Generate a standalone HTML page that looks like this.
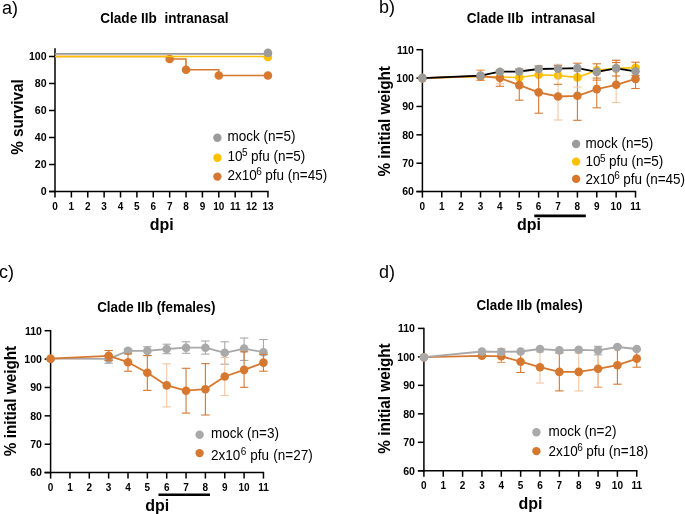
<!DOCTYPE html>
<html><head><meta charset="utf-8"><title>Clade IIb</title>
<style>
html,body{margin:0;padding:0;background:#fff;}
body{width:685px;height:514px;overflow:hidden;}
svg{display:block;will-change:transform;font-family:"Liberation Sans", sans-serif;}
text{fill:#000;white-space:pre;}
</style></head>
<body>
<svg width="685" height="514" viewBox="0 0 685 514">
<rect width="685" height="514" fill="#fff"/>
<text x="0" y="0" transform="translate(2,14.0) scale(1,1.0)" font-size="18" font-weight="normal" text-anchor="start" >a)</text>
<text x="0" y="0" transform="translate(164.4,23.3) scale(1,1.05)" font-size="13.6" font-weight="bold" text-anchor="middle" >Clade IIb&#160;&#160;intranasal</text>
<line x1="55.0" y1="48.3" x2="55.0" y2="192.2" stroke="#000" stroke-width="1.5" />
<line x1="49.0" y1="191.5" x2="55.0" y2="191.5" stroke="#000" stroke-width="1.5" />
<text x="0" y="0" transform="translate(46.6,195.316) scale(1,1.0)" font-size="10.6" font-weight="bold" text-anchor="end" >0</text>
<line x1="49.0" y1="164.5" x2="55.0" y2="164.5" stroke="#000" stroke-width="1.5" />
<text x="0" y="0" transform="translate(46.6,168.316) scale(1,1.0)" font-size="10.6" font-weight="bold" text-anchor="end" >20</text>
<line x1="49.0" y1="137.5" x2="55.0" y2="137.5" stroke="#000" stroke-width="1.5" />
<text x="0" y="0" transform="translate(46.6,141.316) scale(1,1.0)" font-size="10.6" font-weight="bold" text-anchor="end" >40</text>
<line x1="49.0" y1="110.5" x2="55.0" y2="110.5" stroke="#000" stroke-width="1.5" />
<text x="0" y="0" transform="translate(46.6,114.316) scale(1,1.0)" font-size="10.6" font-weight="bold" text-anchor="end" >60</text>
<line x1="49.0" y1="83.5" x2="55.0" y2="83.5" stroke="#000" stroke-width="1.5" />
<text x="0" y="0" transform="translate(46.6,87.316) scale(1,1.0)" font-size="10.6" font-weight="bold" text-anchor="end" >80</text>
<line x1="49.0" y1="56.5" x2="55.0" y2="56.5" stroke="#000" stroke-width="1.5" />
<text x="0" y="0" transform="translate(46.6,60.316) scale(1,1.0)" font-size="10.6" font-weight="bold" text-anchor="end" >100</text>
<line x1="49.2" y1="191.5" x2="268.64" y2="191.5" stroke="#000" stroke-width="1.5" />
<line x1="55.0" y1="191.5" x2="55.0" y2="197.5" stroke="#000" stroke-width="1.5" />
<text x="0" y="0" transform="translate(55.0,209.6) scale(1,1.0)" font-size="10" font-weight="bold" text-anchor="middle" >0</text>
<line x1="71.38" y1="191.5" x2="71.38" y2="197.5" stroke="#000" stroke-width="1.5" />
<text x="0" y="0" transform="translate(71.38,209.6) scale(1,1.0)" font-size="10" font-weight="bold" text-anchor="middle" >1</text>
<line x1="87.75999999999999" y1="191.5" x2="87.75999999999999" y2="197.5" stroke="#000" stroke-width="1.5" />
<text x="0" y="0" transform="translate(87.75999999999999,209.6) scale(1,1.0)" font-size="10" font-weight="bold" text-anchor="middle" >2</text>
<line x1="104.14" y1="191.5" x2="104.14" y2="197.5" stroke="#000" stroke-width="1.5" />
<text x="0" y="0" transform="translate(104.14,209.6) scale(1,1.0)" font-size="10" font-weight="bold" text-anchor="middle" >3</text>
<line x1="120.52" y1="191.5" x2="120.52" y2="197.5" stroke="#000" stroke-width="1.5" />
<text x="0" y="0" transform="translate(120.52,209.6) scale(1,1.0)" font-size="10" font-weight="bold" text-anchor="middle" >4</text>
<line x1="136.89999999999998" y1="191.5" x2="136.89999999999998" y2="197.5" stroke="#000" stroke-width="1.5" />
<text x="0" y="0" transform="translate(136.89999999999998,209.6) scale(1,1.0)" font-size="10" font-weight="bold" text-anchor="middle" >5</text>
<line x1="153.28" y1="191.5" x2="153.28" y2="197.5" stroke="#000" stroke-width="1.5" />
<text x="0" y="0" transform="translate(153.28,209.6) scale(1,1.0)" font-size="10" font-weight="bold" text-anchor="middle" >6</text>
<line x1="169.66" y1="191.5" x2="169.66" y2="197.5" stroke="#000" stroke-width="1.5" />
<text x="0" y="0" transform="translate(169.66,209.6) scale(1,1.0)" font-size="10" font-weight="bold" text-anchor="middle" >7</text>
<line x1="186.04" y1="191.5" x2="186.04" y2="197.5" stroke="#000" stroke-width="1.5" />
<text x="0" y="0" transform="translate(186.04,209.6) scale(1,1.0)" font-size="10" font-weight="bold" text-anchor="middle" >8</text>
<line x1="202.42" y1="191.5" x2="202.42" y2="197.5" stroke="#000" stroke-width="1.5" />
<text x="0" y="0" transform="translate(202.42,209.6) scale(1,1.0)" font-size="10" font-weight="bold" text-anchor="middle" >9</text>
<line x1="218.79999999999998" y1="191.5" x2="218.79999999999998" y2="197.5" stroke="#000" stroke-width="1.5" />
<text x="0" y="0" transform="translate(218.79999999999998,209.6) scale(1,1.0)" font-size="10" font-weight="bold" text-anchor="middle" >10</text>
<line x1="235.17999999999998" y1="191.5" x2="235.17999999999998" y2="197.5" stroke="#000" stroke-width="1.5" />
<text x="0" y="0" transform="translate(235.17999999999998,209.6) scale(1,1.0)" font-size="10" font-weight="bold" text-anchor="middle" >11</text>
<line x1="251.56" y1="191.5" x2="251.56" y2="197.5" stroke="#000" stroke-width="1.5" />
<text x="0" y="0" transform="translate(251.56,209.6) scale(1,1.0)" font-size="10" font-weight="bold" text-anchor="middle" >12</text>
<line x1="267.94" y1="191.5" x2="267.94" y2="197.5" stroke="#000" stroke-width="1.5" />
<text x="0" y="0" transform="translate(267.94,209.6) scale(1,1.0)" font-size="10" font-weight="bold" text-anchor="middle" >13</text>
<text x="0" y="0" transform="translate(161.8,230.1) scale(1,1.0)" font-size="16" font-weight="bold" text-anchor="middle" >dpi</text>
<text x="0" y="0" font-size="15.3" font-weight="bold" text-anchor="middle" transform="translate(22.8,117) rotate(-90) scale(1,1.03)">% survival</text>
<polyline points="55.0,56.5 169.7,56.5 169.7,59.0 186.0,59.0 186.0,69.8 218.8,69.8 218.8,75.5 267.9,75.5" fill="none" stroke="#D6782F" stroke-width="1.6" stroke-linejoin="round"/>
<circle cx="169.66" cy="59" r="4.3" fill="#D6782F"/>
<circle cx="186.04" cy="69.8" r="4.3" fill="#D6782F"/>
<circle cx="218.79999999999998" cy="75.5" r="4.3" fill="#D6782F"/>
<circle cx="267.94" cy="75.5" r="4.3" fill="#D6782F"/>
<line x1="55.0" y1="56.5" x2="267.94" y2="56.5" stroke="#FFC000" stroke-width="1.6" />
<circle cx="267.94" cy="57" r="4.3" fill="#FFC000"/>
<line x1="55.0" y1="53.9" x2="267.94" y2="53.9" stroke="#9B9B9B" stroke-width="1.6" />
<circle cx="267.94" cy="52.9" r="4.3" fill="#9B9B9B"/>
<circle cx="217.4" cy="137.8" r="4.2" fill="#9B9B9B"/>
<text x="0" y="0" transform="translate(227.6,141.0) scale(1,1.05)" font-size="13.5" font-weight="normal" text-anchor="start" >mock (n=5)</text>
<circle cx="217.4" cy="157.8" r="4.2" fill="#FFC000"/>
<text x="0" y="0" transform="translate(227.6,161.0) scale(1,1.05)" font-size="13.5" font-weight="normal" text-anchor="start" >10<tspan font-size="10" dx="-0.6" dy="-4.4">5</tspan><tspan dy="4.4" dx="-0.3"> pfu (n=5)</tspan></text>
<circle cx="217.4" cy="176.6" r="4.2" fill="#D6782F"/>
<text x="0" y="0" transform="translate(227.6,180.0) scale(1,1.05)" font-size="13.5" font-weight="normal" text-anchor="start" >2x10<tspan font-size="10" dx="-0.6" dy="-4.4">6</tspan><tspan dy="4.4" dx="-0.3"> pfu </tspan><tspan dx="0">(n=45)</tspan></text>
<text x="0" y="0" transform="translate(379,12.8) scale(1,1.0)" font-size="18" font-weight="normal" text-anchor="start" >b)</text>
<text x="0" y="0" transform="translate(531,23.3) scale(1,1.05)" font-size="13.6" font-weight="bold" text-anchor="middle" >Clade IIb&#160;&#160;intranasal</text>
<line x1="422.4" y1="48.999999999999986" x2="422.4" y2="192.29999999999998" stroke="#000" stroke-width="1.5" />
<line x1="416.4" y1="191.6" x2="422.4" y2="191.6" stroke="#000" stroke-width="1.5" />
<text x="0" y="0" transform="translate(414,195.416) scale(1,1.0)" font-size="10.6" font-weight="bold" text-anchor="end" >60</text>
<line x1="416.4" y1="163.22" x2="422.4" y2="163.22" stroke="#000" stroke-width="1.5" />
<text x="0" y="0" transform="translate(414,167.036) scale(1,1.0)" font-size="10.6" font-weight="bold" text-anchor="end" >70</text>
<line x1="416.4" y1="134.83999999999997" x2="422.4" y2="134.83999999999997" stroke="#000" stroke-width="1.5" />
<text x="0" y="0" transform="translate(414,138.65599999999998) scale(1,1.0)" font-size="10.6" font-weight="bold" text-anchor="end" >80</text>
<line x1="416.4" y1="106.46" x2="422.4" y2="106.46" stroke="#000" stroke-width="1.5" />
<text x="0" y="0" transform="translate(414,110.276) scale(1,1.0)" font-size="10.6" font-weight="bold" text-anchor="end" >90</text>
<line x1="416.4" y1="78.07999999999998" x2="422.4" y2="78.07999999999998" stroke="#000" stroke-width="1.5" />
<text x="0" y="0" transform="translate(414,81.89599999999999) scale(1,1.0)" font-size="10.6" font-weight="bold" text-anchor="end" >100</text>
<line x1="416.4" y1="49.69999999999999" x2="422.4" y2="49.69999999999999" stroke="#000" stroke-width="1.5" />
<text x="0" y="0" transform="translate(414,53.51599999999999) scale(1,1.0)" font-size="10.6" font-weight="bold" text-anchor="end" >110</text>
<line x1="416.4" y1="191.6" x2="636.225" y2="191.6" stroke="#000" stroke-width="1.5" />
<line x1="422.4" y1="191.6" x2="422.4" y2="197.6" stroke="#000" stroke-width="1.5" />
<text x="0" y="0" transform="translate(422.4,210) scale(1,1.0)" font-size="10" font-weight="bold" text-anchor="middle" >0</text>
<line x1="441.775" y1="191.6" x2="441.775" y2="197.6" stroke="#000" stroke-width="1.5" />
<text x="0" y="0" transform="translate(441.775,210) scale(1,1.0)" font-size="10" font-weight="bold" text-anchor="middle" >1</text>
<line x1="461.15" y1="191.6" x2="461.15" y2="197.6" stroke="#000" stroke-width="1.5" />
<text x="0" y="0" transform="translate(461.15,210) scale(1,1.0)" font-size="10" font-weight="bold" text-anchor="middle" >2</text>
<line x1="480.525" y1="191.6" x2="480.525" y2="197.6" stroke="#000" stroke-width="1.5" />
<text x="0" y="0" transform="translate(480.525,210) scale(1,1.0)" font-size="10" font-weight="bold" text-anchor="middle" >3</text>
<line x1="499.9" y1="191.6" x2="499.9" y2="197.6" stroke="#000" stroke-width="1.5" />
<text x="0" y="0" transform="translate(499.9,210) scale(1,1.0)" font-size="10" font-weight="bold" text-anchor="middle" >4</text>
<line x1="519.275" y1="191.6" x2="519.275" y2="197.6" stroke="#000" stroke-width="1.5" />
<text x="0" y="0" transform="translate(519.275,210) scale(1,1.0)" font-size="10" font-weight="bold" text-anchor="middle" >5</text>
<line x1="538.65" y1="191.6" x2="538.65" y2="197.6" stroke="#000" stroke-width="1.5" />
<text x="0" y="0" transform="translate(538.65,210) scale(1,1.0)" font-size="10" font-weight="bold" text-anchor="middle" >6</text>
<line x1="558.025" y1="191.6" x2="558.025" y2="197.6" stroke="#000" stroke-width="1.5" />
<text x="0" y="0" transform="translate(558.025,210) scale(1,1.0)" font-size="10" font-weight="bold" text-anchor="middle" >7</text>
<line x1="577.4" y1="191.6" x2="577.4" y2="197.6" stroke="#000" stroke-width="1.5" />
<text x="0" y="0" transform="translate(577.4,210) scale(1,1.0)" font-size="10" font-weight="bold" text-anchor="middle" >8</text>
<line x1="596.775" y1="191.6" x2="596.775" y2="197.6" stroke="#000" stroke-width="1.5" />
<text x="0" y="0" transform="translate(596.775,210) scale(1,1.0)" font-size="10" font-weight="bold" text-anchor="middle" >9</text>
<line x1="616.15" y1="191.6" x2="616.15" y2="197.6" stroke="#000" stroke-width="1.5" />
<text x="0" y="0" transform="translate(616.15,210) scale(1,1.0)" font-size="10" font-weight="bold" text-anchor="middle" >10</text>
<line x1="635.525" y1="191.6" x2="635.525" y2="197.6" stroke="#000" stroke-width="1.5" />
<text x="0" y="0" transform="translate(635.525,210) scale(1,1.0)" font-size="10" font-weight="bold" text-anchor="middle" >11</text>
<line x1="534.3" y1="215.9" x2="585.8" y2="215.9" stroke="#000" stroke-width="2.6" />
<text x="0" y="0" transform="translate(529,230.2) scale(1,1.0)" font-size="16" font-weight="bold" text-anchor="middle" >dpi</text>
<text x="0" y="0" font-size="15.3" font-weight="bold" text-anchor="middle" transform="translate(390.2,121.3) rotate(-90) scale(1,1.03)">% initial weight</text>
<polyline points="422.4,78.1 480.5,76.5 499.9,77.0 519.3,77.5 538.6,74.8 558.0,75.5 577.4,77.4 596.8,70.2 616.1,68.4 635.5,67.8" fill="none" stroke="#FFC000" stroke-width="1.6" stroke-linejoin="round"/>
<circle cx="422.4" cy="78.1" r="4.3" fill="#FFC000"/>
<circle cx="480.525" cy="76.5" r="4.3" fill="#FFC000"/>
<circle cx="499.9" cy="77.0" r="4.3" fill="#FFC000"/>
<circle cx="519.275" cy="77.5" r="4.3" fill="#FFC000"/>
<circle cx="538.65" cy="74.8" r="4.3" fill="#FFC000"/>
<circle cx="558.025" cy="75.5" r="4.3" fill="#FFC000"/>
<circle cx="577.4" cy="77.4" r="4.3" fill="#FFC000"/>
<circle cx="596.775" cy="70.2" r="4.3" fill="#FFC000"/>
<circle cx="616.15" cy="68.4" r="4.3" fill="#FFC000"/>
<circle cx="635.525" cy="67.8" r="4.3" fill="#FFC000"/>
<line x1="480.525" y1="70.2" x2="480.525" y2="80.4" stroke="#EE8A3A" stroke-width="1.1" />
<line x1="476.325" y1="70.2" x2="484.72499999999997" y2="70.2" stroke="#EE8A3A" stroke-width="1.1" />
<line x1="476.325" y1="80.4" x2="484.72499999999997" y2="80.4" stroke="#EE8A3A" stroke-width="1.1" />
<line x1="499.9" y1="70.0" x2="499.9" y2="86.3" stroke="#D6782F" stroke-width="1.1" />
<line x1="495.7" y1="70.0" x2="504.09999999999997" y2="70.0" stroke="#D6782F" stroke-width="1.1" />
<line x1="495.7" y1="86.3" x2="504.09999999999997" y2="86.3" stroke="#D6782F" stroke-width="1.1" />
<line x1="495.7" y1="83.8" x2="504.09999999999997" y2="83.8" stroke="#F2C6A2" stroke-width="1.1" />
<line x1="519.275" y1="69.0" x2="519.275" y2="100.2" stroke="#D6782F" stroke-width="1.1" />
<line x1="515.0749999999999" y1="69.0" x2="523.475" y2="69.0" stroke="#D6782F" stroke-width="1.1" />
<line x1="515.0749999999999" y1="100.2" x2="523.475" y2="100.2" stroke="#D6782F" stroke-width="1.1" />
<line x1="538.65" y1="66.0" x2="538.65" y2="113.2" stroke="#D6782F" stroke-width="1.1" />
<line x1="534.4499999999999" y1="66.0" x2="542.85" y2="66.0" stroke="#D6782F" stroke-width="1.1" />
<line x1="534.4499999999999" y1="113.2" x2="542.85" y2="113.2" stroke="#D6782F" stroke-width="1.1" />
<line x1="558.025" y1="64.3" x2="558.025" y2="120.0" stroke="#F2C6A2" stroke-width="1.1" />
<line x1="553.8249999999999" y1="64.3" x2="562.225" y2="64.3" stroke="#F2C6A2" stroke-width="1.1" />
<line x1="553.8249999999999" y1="120.0" x2="562.225" y2="120.0" stroke="#F2C6A2" stroke-width="1.1" />
<line x1="553.8249999999999" y1="84.3" x2="562.225" y2="84.3" stroke="#D6782F" stroke-width="1.1" />
<line x1="553.8249999999999" y1="65.6" x2="562.225" y2="65.6" stroke="#D6782F" stroke-width="1.1" />
<line x1="577.4" y1="63.2" x2="577.4" y2="120.3" stroke="#D6782F" stroke-width="1.1" />
<line x1="573.1999999999999" y1="63.2" x2="581.6" y2="63.2" stroke="#D6782F" stroke-width="1.1" />
<line x1="573.1999999999999" y1="120.3" x2="581.6" y2="120.3" stroke="#D6782F" stroke-width="1.1" />
<line x1="573.1999999999999" y1="71.3" x2="581.6" y2="71.3" stroke="#F2C6A2" stroke-width="1.1" />
<line x1="573.1999999999999" y1="87.0" x2="581.6" y2="87.0" stroke="#F2C6A2" stroke-width="1.1" />
<line x1="596.775" y1="63.8" x2="596.775" y2="107.8" stroke="#D6782F" stroke-width="1.1" />
<line x1="592.5749999999999" y1="63.8" x2="600.975" y2="63.8" stroke="#D6782F" stroke-width="1.1" />
<line x1="592.5749999999999" y1="107.8" x2="600.975" y2="107.8" stroke="#D6782F" stroke-width="1.1" />
<line x1="592.5749999999999" y1="78.1" x2="600.975" y2="78.1" stroke="#D6782F" stroke-width="1.1" />
<line x1="592.5749999999999" y1="80.1" x2="600.975" y2="80.1" stroke="#D6782F" stroke-width="1.1" />
<line x1="616.15" y1="60.3" x2="616.15" y2="102.5" stroke="#F2C6A2" stroke-width="1.1" />
<line x1="611.9499999999999" y1="60.3" x2="620.35" y2="60.3" stroke="#F2C6A2" stroke-width="1.1" />
<line x1="611.9499999999999" y1="102.5" x2="620.35" y2="102.5" stroke="#F2C6A2" stroke-width="1.1" />
<line x1="616.15" y1="60.3" x2="616.15" y2="84.8" stroke="#D6782F" stroke-width="1.1" />
<line x1="611.9499999999999" y1="60.3" x2="620.35" y2="60.3" stroke="#D6782F" stroke-width="1.1" />
<line x1="611.9499999999999" y1="62.6" x2="620.35" y2="62.6" stroke="#D6782F" stroke-width="1.1" />
<line x1="611.9499999999999" y1="76.0" x2="620.35" y2="76.0" stroke="#D6782F" stroke-width="1.1" />
<line x1="635.525" y1="62.2" x2="635.525" y2="88.5" stroke="#D6782F" stroke-width="1.1" />
<line x1="631.3249999999999" y1="62.2" x2="639.725" y2="62.2" stroke="#D6782F" stroke-width="1.1" />
<line x1="631.3249999999999" y1="88.5" x2="639.725" y2="88.5" stroke="#D6782F" stroke-width="1.1" />
<line x1="631.3249999999999" y1="75.4" x2="639.725" y2="75.4" stroke="#D6782F" stroke-width="1.1" />
<polyline points="422.4,78.1 480.5,76.2 499.9,78.0 519.3,85.1 538.6,92.4 558.0,96.5 577.4,95.8 596.8,89.1 616.1,84.8 635.5,78.9" fill="none" stroke="#D6782F" stroke-width="1.8" stroke-linejoin="round"/>
<circle cx="422.4" cy="78.1" r="4.3" fill="#D6782F"/>
<circle cx="480.525" cy="76.2" r="4.3" fill="#D6782F"/>
<circle cx="499.9" cy="78.0" r="4.3" fill="#D6782F"/>
<circle cx="519.275" cy="85.1" r="4.3" fill="#D6782F"/>
<circle cx="538.65" cy="92.4" r="4.3" fill="#D6782F"/>
<circle cx="558.025" cy="96.5" r="4.3" fill="#D6782F"/>
<circle cx="577.4" cy="95.8" r="4.3" fill="#D6782F"/>
<circle cx="596.775" cy="89.1" r="4.3" fill="#D6782F"/>
<circle cx="616.15" cy="84.8" r="4.3" fill="#D6782F"/>
<circle cx="635.525" cy="78.9" r="4.3" fill="#D6782F"/>
<polyline points="422.4,78.1 480.5,75.6 499.9,71.7 519.3,71.5 538.6,69.0 558.0,68.7 577.4,68.1 596.8,71.9 616.1,68.4 635.5,71.3" fill="none" stroke="#000" stroke-width="1.8" stroke-linejoin="round"/>
<circle cx="422.4" cy="78.1" r="4.3" fill="#9B9B9B"/>
<circle cx="480.525" cy="75.6" r="4.3" fill="#9B9B9B"/>
<circle cx="499.9" cy="71.7" r="4.3" fill="#9B9B9B"/>
<circle cx="519.275" cy="71.5" r="4.3" fill="#9B9B9B"/>
<circle cx="538.65" cy="69.0" r="4.3" fill="#9B9B9B"/>
<circle cx="558.025" cy="68.7" r="4.3" fill="#9B9B9B"/>
<circle cx="577.4" cy="68.1" r="4.3" fill="#9B9B9B"/>
<circle cx="596.775" cy="71.9" r="4.3" fill="#9B9B9B"/>
<circle cx="616.15" cy="68.4" r="4.3" fill="#9B9B9B"/>
<circle cx="635.525" cy="71.3" r="4.3" fill="#9B9B9B"/>
<circle cx="576.1" cy="144.0" r="4.2" fill="#9B9B9B"/>
<text x="0" y="0" transform="translate(585.5,148.3) scale(1,1.05)" font-size="13.5" font-weight="normal" text-anchor="start" >mock (n=5)</text>
<circle cx="576.1" cy="161.6" r="4.2" fill="#FFC000"/>
<text x="0" y="0" transform="translate(585.5,166.2) scale(1,1.05)" font-size="13.5" font-weight="normal" text-anchor="start" >10<tspan font-size="10" dx="-0.6" dy="-4.4">5</tspan><tspan dy="4.4" dx="-0.3"> pfu (n=5)</tspan></text>
<circle cx="576.1" cy="178.9" r="4.2" fill="#D6782F"/>
<text x="0" y="0" transform="translate(585.5,184.0) scale(1,1.05)" font-size="13.5" font-weight="normal" text-anchor="start" >2x10<tspan font-size="10" dx="-0.6" dy="-4.4">6</tspan><tspan dy="4.4" dx="-0.3"> pfu </tspan><tspan dx="0">(n=45)</tspan></text>
<text x="0" y="0" transform="translate(-1,278) scale(1,1.0)" font-size="18" font-weight="normal" text-anchor="start" >c)</text>
<text x="0" y="0" transform="translate(156.3,311.9) scale(1,1.05)" font-size="13.4" font-weight="bold" text-anchor="middle" >Clade IIb (females)</text>
<line x1="50.6" y1="330.00000000000006" x2="50.6" y2="473.3" stroke="#000" stroke-width="1.5" />
<line x1="44.6" y1="472.6" x2="50.6" y2="472.6" stroke="#000" stroke-width="1.5" />
<text x="0" y="0" transform="translate(42,476.416) scale(1,1.0)" font-size="10.6" font-weight="bold" text-anchor="end" >60</text>
<line x1="44.6" y1="444.22" x2="50.6" y2="444.22" stroke="#000" stroke-width="1.5" />
<text x="0" y="0" transform="translate(42,448.036) scale(1,1.0)" font-size="10.6" font-weight="bold" text-anchor="end" >70</text>
<line x1="44.6" y1="415.84000000000003" x2="50.6" y2="415.84000000000003" stroke="#000" stroke-width="1.5" />
<text x="0" y="0" transform="translate(42,419.656) scale(1,1.0)" font-size="10.6" font-weight="bold" text-anchor="end" >80</text>
<line x1="44.6" y1="387.46000000000004" x2="50.6" y2="387.46000000000004" stroke="#000" stroke-width="1.5" />
<text x="0" y="0" transform="translate(42,391.276) scale(1,1.0)" font-size="10.6" font-weight="bold" text-anchor="end" >90</text>
<line x1="44.6" y1="359.08000000000004" x2="50.6" y2="359.08000000000004" stroke="#000" stroke-width="1.5" />
<text x="0" y="0" transform="translate(42,362.896) scale(1,1.0)" font-size="10.6" font-weight="bold" text-anchor="end" >100</text>
<line x1="44.6" y1="330.70000000000005" x2="50.6" y2="330.70000000000005" stroke="#000" stroke-width="1.5" />
<text x="0" y="0" transform="translate(42,334.516) scale(1,1.0)" font-size="10.6" font-weight="bold" text-anchor="end" >110</text>
<line x1="44.6" y1="472.6" x2="264.15000000000003" y2="472.6" stroke="#000" stroke-width="1.5" />
<line x1="50.6" y1="472.6" x2="50.6" y2="478.6" stroke="#000" stroke-width="1.5" />
<text x="0" y="0" transform="translate(50.6,490.9) scale(1,1.0)" font-size="10" font-weight="bold" text-anchor="middle" >0</text>
<line x1="69.95" y1="472.6" x2="69.95" y2="478.6" stroke="#000" stroke-width="1.5" />
<text x="0" y="0" transform="translate(69.95,490.9) scale(1,1.0)" font-size="10" font-weight="bold" text-anchor="middle" >1</text>
<line x1="89.30000000000001" y1="472.6" x2="89.30000000000001" y2="478.6" stroke="#000" stroke-width="1.5" />
<text x="0" y="0" transform="translate(89.30000000000001,490.9) scale(1,1.0)" font-size="10" font-weight="bold" text-anchor="middle" >2</text>
<line x1="108.65" y1="472.6" x2="108.65" y2="478.6" stroke="#000" stroke-width="1.5" />
<text x="0" y="0" transform="translate(108.65,490.9) scale(1,1.0)" font-size="10" font-weight="bold" text-anchor="middle" >3</text>
<line x1="128.0" y1="472.6" x2="128.0" y2="478.6" stroke="#000" stroke-width="1.5" />
<text x="0" y="0" transform="translate(128.0,490.9) scale(1,1.0)" font-size="10" font-weight="bold" text-anchor="middle" >4</text>
<line x1="147.35" y1="472.6" x2="147.35" y2="478.6" stroke="#000" stroke-width="1.5" />
<text x="0" y="0" transform="translate(147.35,490.9) scale(1,1.0)" font-size="10" font-weight="bold" text-anchor="middle" >5</text>
<line x1="166.70000000000002" y1="472.6" x2="166.70000000000002" y2="478.6" stroke="#000" stroke-width="1.5" />
<text x="0" y="0" transform="translate(166.70000000000002,490.9) scale(1,1.0)" font-size="10" font-weight="bold" text-anchor="middle" >6</text>
<line x1="186.05" y1="472.6" x2="186.05" y2="478.6" stroke="#000" stroke-width="1.5" />
<text x="0" y="0" transform="translate(186.05,490.9) scale(1,1.0)" font-size="10" font-weight="bold" text-anchor="middle" >7</text>
<line x1="205.4" y1="472.6" x2="205.4" y2="478.6" stroke="#000" stroke-width="1.5" />
<text x="0" y="0" transform="translate(205.4,490.9) scale(1,1.0)" font-size="10" font-weight="bold" text-anchor="middle" >8</text>
<line x1="224.75" y1="472.6" x2="224.75" y2="478.6" stroke="#000" stroke-width="1.5" />
<text x="0" y="0" transform="translate(224.75,490.9) scale(1,1.0)" font-size="10" font-weight="bold" text-anchor="middle" >9</text>
<line x1="244.1" y1="472.6" x2="244.1" y2="478.6" stroke="#000" stroke-width="1.5" />
<text x="0" y="0" transform="translate(244.1,490.9) scale(1,1.0)" font-size="10" font-weight="bold" text-anchor="middle" >10</text>
<line x1="263.45000000000005" y1="472.6" x2="263.45000000000005" y2="478.6" stroke="#000" stroke-width="1.5" />
<text x="0" y="0" transform="translate(263.45000000000005,490.9) scale(1,1.0)" font-size="10" font-weight="bold" text-anchor="middle" >11</text>
<line x1="158.5" y1="494.8" x2="210" y2="494.8" stroke="#000" stroke-width="2.6" />
<text x="0" y="0" transform="translate(157.3,511.1) scale(1,1.0)" font-size="16" font-weight="bold" text-anchor="middle" >dpi</text>
<text x="0" y="0" font-size="15.3" font-weight="bold" text-anchor="middle" transform="translate(16,401) rotate(-90) scale(1,1.03)">% initial weight</text>
<line x1="108.65" y1="355" x2="108.65" y2="363.3" stroke="#A9A9A9" stroke-width="1.1" />
<line x1="104.45" y1="355" x2="112.85000000000001" y2="355" stroke="#A9A9A9" stroke-width="1.1" />
<line x1="104.45" y1="363.3" x2="112.85000000000001" y2="363.3" stroke="#A9A9A9" stroke-width="1.1" />
<line x1="128.0" y1="349" x2="128.0" y2="353" stroke="#A9A9A9" stroke-width="1.1" />
<line x1="123.8" y1="349" x2="132.2" y2="349" stroke="#A9A9A9" stroke-width="1.1" />
<line x1="123.8" y1="353" x2="132.2" y2="353" stroke="#A9A9A9" stroke-width="1.1" />
<line x1="147.35" y1="346.7" x2="147.35" y2="355.6" stroke="#A9A9A9" stroke-width="1.1" />
<line x1="143.15" y1="346.7" x2="151.54999999999998" y2="346.7" stroke="#A9A9A9" stroke-width="1.1" />
<line x1="143.15" y1="355.6" x2="151.54999999999998" y2="355.6" stroke="#A9A9A9" stroke-width="1.1" />
<line x1="166.70000000000002" y1="344.2" x2="166.70000000000002" y2="353.7" stroke="#A9A9A9" stroke-width="1.1" />
<line x1="162.50000000000003" y1="344.2" x2="170.9" y2="344.2" stroke="#A9A9A9" stroke-width="1.1" />
<line x1="162.50000000000003" y1="353.7" x2="170.9" y2="353.7" stroke="#A9A9A9" stroke-width="1.1" />
<line x1="186.05" y1="341.8" x2="186.05" y2="353.3" stroke="#A9A9A9" stroke-width="1.1" />
<line x1="181.85000000000002" y1="341.8" x2="190.25" y2="341.8" stroke="#A9A9A9" stroke-width="1.1" />
<line x1="181.85000000000002" y1="353.3" x2="190.25" y2="353.3" stroke="#A9A9A9" stroke-width="1.1" />
<line x1="205.4" y1="341.0" x2="205.4" y2="354.1" stroke="#A9A9A9" stroke-width="1.1" />
<line x1="201.20000000000002" y1="341.0" x2="209.6" y2="341.0" stroke="#A9A9A9" stroke-width="1.1" />
<line x1="201.20000000000002" y1="354.1" x2="209.6" y2="354.1" stroke="#A9A9A9" stroke-width="1.1" />
<line x1="224.75" y1="341.8" x2="224.75" y2="364.2" stroke="#A9A9A9" stroke-width="1.1" />
<line x1="220.55" y1="341.8" x2="228.95" y2="341.8" stroke="#A9A9A9" stroke-width="1.1" />
<line x1="220.55" y1="364.2" x2="228.95" y2="364.2" stroke="#A9A9A9" stroke-width="1.1" />
<line x1="244.1" y1="338.0" x2="244.1" y2="360.4" stroke="#A9A9A9" stroke-width="1.1" />
<line x1="239.9" y1="338.0" x2="248.29999999999998" y2="338.0" stroke="#A9A9A9" stroke-width="1.1" />
<line x1="239.9" y1="360.4" x2="248.29999999999998" y2="360.4" stroke="#A9A9A9" stroke-width="1.1" />
<line x1="263.45000000000005" y1="339.5" x2="263.45000000000005" y2="354.7" stroke="#A9A9A9" stroke-width="1.1" />
<line x1="259.25000000000006" y1="339.5" x2="267.65000000000003" y2="339.5" stroke="#A9A9A9" stroke-width="1.1" />
<line x1="259.25000000000006" y1="354.7" x2="267.65000000000003" y2="354.7" stroke="#A9A9A9" stroke-width="1.1" />
<polyline points="50.6,358.7 108.7,358.9 128.0,350.9 147.3,350.9 166.7,349.0 186.1,347.7 205.4,347.7 224.8,352.8 244.1,348.6 263.5,352.2" fill="none" stroke="#A9A9A9" stroke-width="1.8" stroke-linejoin="round"/>
<circle cx="50.6" cy="358.7" r="4.3" fill="#A9A9A9"/>
<circle cx="108.65" cy="358.9" r="4.3" fill="#A9A9A9"/>
<circle cx="128.0" cy="350.9" r="4.3" fill="#A9A9A9"/>
<circle cx="147.35" cy="350.9" r="4.3" fill="#A9A9A9"/>
<circle cx="166.70000000000002" cy="349.0" r="4.3" fill="#A9A9A9"/>
<circle cx="186.05" cy="347.7" r="4.3" fill="#A9A9A9"/>
<circle cx="205.4" cy="347.7" r="4.3" fill="#A9A9A9"/>
<circle cx="224.75" cy="352.8" r="4.3" fill="#A9A9A9"/>
<circle cx="244.1" cy="348.6" r="4.3" fill="#A9A9A9"/>
<circle cx="263.45000000000005" cy="352.2" r="4.3" fill="#A9A9A9"/>
<line x1="108.65" y1="350.5" x2="108.65" y2="360.5" stroke="#D6782F" stroke-width="1.1" />
<line x1="104.45" y1="350.5" x2="112.85000000000001" y2="350.5" stroke="#D6782F" stroke-width="1.1" />
<line x1="104.45" y1="360.5" x2="112.85000000000001" y2="360.5" stroke="#D6782F" stroke-width="1.1" />
<line x1="128.0" y1="354.0" x2="128.0" y2="371.2" stroke="#D6782F" stroke-width="1.1" />
<line x1="123.8" y1="354.0" x2="132.2" y2="354.0" stroke="#D6782F" stroke-width="1.1" />
<line x1="123.8" y1="371.2" x2="132.2" y2="371.2" stroke="#D6782F" stroke-width="1.1" />
<line x1="147.35" y1="355.6" x2="147.35" y2="390.4" stroke="#D6782F" stroke-width="1.1" />
<line x1="143.15" y1="355.6" x2="151.54999999999998" y2="355.6" stroke="#D6782F" stroke-width="1.1" />
<line x1="143.15" y1="390.4" x2="151.54999999999998" y2="390.4" stroke="#D6782F" stroke-width="1.1" />
<line x1="166.70000000000002" y1="363.8" x2="166.70000000000002" y2="406.9" stroke="#F2C6A2" stroke-width="1.1" />
<line x1="162.50000000000003" y1="363.8" x2="170.9" y2="363.8" stroke="#F2C6A2" stroke-width="1.1" />
<line x1="162.50000000000003" y1="406.9" x2="170.9" y2="406.9" stroke="#F2C6A2" stroke-width="1.1" />
<line x1="186.05" y1="368.3" x2="186.05" y2="413.1" stroke="#D6782F" stroke-width="1.1" />
<line x1="181.85000000000002" y1="368.3" x2="190.25" y2="368.3" stroke="#D6782F" stroke-width="1.1" />
<line x1="181.85000000000002" y1="413.1" x2="190.25" y2="413.1" stroke="#D6782F" stroke-width="1.1" />
<line x1="205.4" y1="363.6" x2="205.4" y2="415.0" stroke="#D6782F" stroke-width="1.1" />
<line x1="201.20000000000002" y1="363.6" x2="209.6" y2="363.6" stroke="#D6782F" stroke-width="1.1" />
<line x1="201.20000000000002" y1="415.0" x2="209.6" y2="415.0" stroke="#D6782F" stroke-width="1.1" />
<line x1="224.75" y1="357.5" x2="224.75" y2="395.5" stroke="#F2C6A2" stroke-width="1.1" />
<line x1="220.55" y1="357.5" x2="228.95" y2="357.5" stroke="#F2C6A2" stroke-width="1.1" />
<line x1="220.55" y1="395.5" x2="228.95" y2="395.5" stroke="#F2C6A2" stroke-width="1.1" />
<line x1="244.1" y1="351.8" x2="244.1" y2="387.3" stroke="#D6782F" stroke-width="1.1" />
<line x1="239.9" y1="351.8" x2="248.29999999999998" y2="351.8" stroke="#D6782F" stroke-width="1.1" />
<line x1="239.9" y1="387.3" x2="248.29999999999998" y2="387.3" stroke="#D6782F" stroke-width="1.1" />
<line x1="263.45000000000005" y1="354.3" x2="263.45000000000005" y2="371.2" stroke="#D6782F" stroke-width="1.1" />
<line x1="259.25000000000006" y1="354.3" x2="267.65000000000003" y2="354.3" stroke="#D6782F" stroke-width="1.1" />
<line x1="259.25000000000006" y1="371.2" x2="267.65000000000003" y2="371.2" stroke="#D6782F" stroke-width="1.1" />
<polyline points="50.6,358.7 108.7,355.8 128.0,362.2 147.3,372.7 166.7,385.4 186.1,390.7 205.4,389.2 224.8,376.5 244.1,369.9 263.5,362.6" fill="none" stroke="#D6782F" stroke-width="1.8" stroke-linejoin="round"/>
<circle cx="50.6" cy="358.7" r="4.3" fill="#D6782F"/>
<circle cx="108.65" cy="355.8" r="4.3" fill="#D6782F"/>
<circle cx="128.0" cy="362.2" r="4.3" fill="#D6782F"/>
<circle cx="147.35" cy="372.7" r="4.3" fill="#D6782F"/>
<circle cx="166.70000000000002" cy="385.4" r="4.3" fill="#D6782F"/>
<circle cx="186.05" cy="390.7" r="4.3" fill="#D6782F"/>
<circle cx="205.4" cy="389.2" r="4.3" fill="#D6782F"/>
<circle cx="224.75" cy="376.5" r="4.3" fill="#D6782F"/>
<circle cx="244.1" cy="369.9" r="4.3" fill="#D6782F"/>
<circle cx="263.45000000000005" cy="362.6" r="4.3" fill="#D6782F"/>
<circle cx="199.6" cy="434.7" r="4.2" fill="#A9A9A9"/>
<text x="0" y="0" transform="translate(211.1,438.4) scale(1,1.05)" font-size="13.5" font-weight="normal" text-anchor="start" >mock (n=3)</text>
<circle cx="199.6" cy="453.1" r="4.2" fill="#D6782F"/>
<text x="0" y="0" transform="translate(211.1,459.5) scale(1,1.05)" font-size="13.5" font-weight="normal" text-anchor="start" >2x10<tspan font-size="10" dx="0.4" dy="-4.4">6</tspan><tspan dy="4.4" dx="0.3"> pfu </tspan><tspan dx="0.5">(n=27)</tspan></text>
<text x="0" y="0" transform="translate(379,277.6) scale(1,1.0)" font-size="18" font-weight="normal" text-anchor="start" >d)</text>
<text x="0" y="0" transform="translate(529.6,310.4) scale(1,1.05)" font-size="13.4" font-weight="bold" text-anchor="middle" >Clade IIb (males)</text>
<line x1="423.9" y1="327.7" x2="423.9" y2="471.5" stroke="#000" stroke-width="1.5" />
<line x1="417.9" y1="470.8" x2="423.9" y2="470.8" stroke="#000" stroke-width="1.5" />
<text x="0" y="0" transform="translate(415,474.616) scale(1,1.0)" font-size="10.6" font-weight="bold" text-anchor="end" >60</text>
<line x1="417.9" y1="442.32" x2="423.9" y2="442.32" stroke="#000" stroke-width="1.5" />
<text x="0" y="0" transform="translate(415,446.13599999999997) scale(1,1.0)" font-size="10.6" font-weight="bold" text-anchor="end" >70</text>
<line x1="417.9" y1="413.84000000000003" x2="423.9" y2="413.84000000000003" stroke="#000" stroke-width="1.5" />
<text x="0" y="0" transform="translate(415,417.656) scale(1,1.0)" font-size="10.6" font-weight="bold" text-anchor="end" >80</text>
<line x1="417.9" y1="385.36" x2="423.9" y2="385.36" stroke="#000" stroke-width="1.5" />
<text x="0" y="0" transform="translate(415,389.176) scale(1,1.0)" font-size="10.6" font-weight="bold" text-anchor="end" >90</text>
<line x1="417.9" y1="356.88" x2="423.9" y2="356.88" stroke="#000" stroke-width="1.5" />
<text x="0" y="0" transform="translate(415,360.69599999999997) scale(1,1.0)" font-size="10.6" font-weight="bold" text-anchor="end" >100</text>
<line x1="417.9" y1="328.4" x2="423.9" y2="328.4" stroke="#000" stroke-width="1.5" />
<text x="0" y="0" transform="translate(415,332.21599999999995) scale(1,1.0)" font-size="10.6" font-weight="bold" text-anchor="end" >110</text>
<line x1="417.9" y1="470.8" x2="637.45" y2="470.8" stroke="#000" stroke-width="1.5" />
<line x1="423.9" y1="470.8" x2="423.9" y2="476.8" stroke="#000" stroke-width="1.5" />
<text x="0" y="0" transform="translate(423.9,488.6) scale(1,1.0)" font-size="10" font-weight="bold" text-anchor="middle" >0</text>
<line x1="443.25" y1="470.8" x2="443.25" y2="476.8" stroke="#000" stroke-width="1.5" />
<text x="0" y="0" transform="translate(443.25,488.6) scale(1,1.0)" font-size="10" font-weight="bold" text-anchor="middle" >1</text>
<line x1="462.59999999999997" y1="470.8" x2="462.59999999999997" y2="476.8" stroke="#000" stroke-width="1.5" />
<text x="0" y="0" transform="translate(462.59999999999997,488.6) scale(1,1.0)" font-size="10" font-weight="bold" text-anchor="middle" >2</text>
<line x1="481.95" y1="470.8" x2="481.95" y2="476.8" stroke="#000" stroke-width="1.5" />
<text x="0" y="0" transform="translate(481.95,488.6) scale(1,1.0)" font-size="10" font-weight="bold" text-anchor="middle" >3</text>
<line x1="501.29999999999995" y1="470.8" x2="501.29999999999995" y2="476.8" stroke="#000" stroke-width="1.5" />
<text x="0" y="0" transform="translate(501.29999999999995,488.6) scale(1,1.0)" font-size="10" font-weight="bold" text-anchor="middle" >4</text>
<line x1="520.65" y1="470.8" x2="520.65" y2="476.8" stroke="#000" stroke-width="1.5" />
<text x="0" y="0" transform="translate(520.65,488.6) scale(1,1.0)" font-size="10" font-weight="bold" text-anchor="middle" >5</text>
<line x1="540.0" y1="470.8" x2="540.0" y2="476.8" stroke="#000" stroke-width="1.5" />
<text x="0" y="0" transform="translate(540.0,488.6) scale(1,1.0)" font-size="10" font-weight="bold" text-anchor="middle" >6</text>
<line x1="559.35" y1="470.8" x2="559.35" y2="476.8" stroke="#000" stroke-width="1.5" />
<text x="0" y="0" transform="translate(559.35,488.6) scale(1,1.0)" font-size="10" font-weight="bold" text-anchor="middle" >7</text>
<line x1="578.7" y1="470.8" x2="578.7" y2="476.8" stroke="#000" stroke-width="1.5" />
<text x="0" y="0" transform="translate(578.7,488.6) scale(1,1.0)" font-size="10" font-weight="bold" text-anchor="middle" >8</text>
<line x1="598.05" y1="470.8" x2="598.05" y2="476.8" stroke="#000" stroke-width="1.5" />
<text x="0" y="0" transform="translate(598.05,488.6) scale(1,1.0)" font-size="10" font-weight="bold" text-anchor="middle" >9</text>
<line x1="617.4" y1="470.8" x2="617.4" y2="476.8" stroke="#000" stroke-width="1.5" />
<text x="0" y="0" transform="translate(617.4,488.6) scale(1,1.0)" font-size="10" font-weight="bold" text-anchor="middle" >10</text>
<line x1="636.75" y1="470.8" x2="636.75" y2="476.8" stroke="#000" stroke-width="1.5" />
<text x="0" y="0" transform="translate(636.75,488.6) scale(1,1.0)" font-size="10" font-weight="bold" text-anchor="middle" >11</text>
<text x="0" y="0" transform="translate(530.5,509.2) scale(1,1.0)" font-size="16" font-weight="bold" text-anchor="middle" >dpi</text>
<text x="0" y="0" font-size="15.3" font-weight="bold" text-anchor="middle" transform="translate(389.5,398.5) rotate(-90) scale(1,1.03)">% initial weight</text>
<line x1="501.29999999999995" y1="348.9" x2="501.29999999999995" y2="362.4" stroke="#E49A5E" stroke-width="1.1" />
<line x1="497.09999999999997" y1="348.9" x2="505.49999999999994" y2="348.9" stroke="#E49A5E" stroke-width="1.1" />
<line x1="497.09999999999997" y1="362.4" x2="505.49999999999994" y2="362.4" stroke="#E49A5E" stroke-width="1.1" />
<line x1="520.65" y1="352" x2="520.65" y2="372.5" stroke="#D6782F" stroke-width="1.1" />
<line x1="516.4499999999999" y1="352" x2="524.85" y2="352" stroke="#D6782F" stroke-width="1.1" />
<line x1="516.4499999999999" y1="372.5" x2="524.85" y2="372.5" stroke="#D6782F" stroke-width="1.1" />
<line x1="540.0" y1="352" x2="540.0" y2="383.1" stroke="#F2C6A2" stroke-width="1.1" />
<line x1="535.8" y1="352" x2="544.2" y2="352" stroke="#F2C6A2" stroke-width="1.1" />
<line x1="535.8" y1="383.1" x2="544.2" y2="383.1" stroke="#F2C6A2" stroke-width="1.1" />
<line x1="559.35" y1="353" x2="559.35" y2="390.9" stroke="#D6782F" stroke-width="1.1" />
<line x1="555.15" y1="353" x2="563.5500000000001" y2="353" stroke="#D6782F" stroke-width="1.1" />
<line x1="555.15" y1="390.9" x2="563.5500000000001" y2="390.9" stroke="#D6782F" stroke-width="1.1" />
<line x1="578.7" y1="353" x2="578.7" y2="390.9" stroke="#F2C6A2" stroke-width="1.1" />
<line x1="574.5" y1="353" x2="582.9000000000001" y2="353" stroke="#F2C6A2" stroke-width="1.1" />
<line x1="574.5" y1="390.9" x2="582.9000000000001" y2="390.9" stroke="#F2C6A2" stroke-width="1.1" />
<line x1="598.05" y1="350" x2="598.05" y2="387.2" stroke="#E49A5E" stroke-width="1.1" />
<line x1="593.8499999999999" y1="350" x2="602.25" y2="350" stroke="#E49A5E" stroke-width="1.1" />
<line x1="593.8499999999999" y1="387.2" x2="602.25" y2="387.2" stroke="#E49A5E" stroke-width="1.1" />
<line x1="617.4" y1="346" x2="617.4" y2="384.2" stroke="#D6782F" stroke-width="1.1" />
<line x1="613.1999999999999" y1="346" x2="621.6" y2="346" stroke="#D6782F" stroke-width="1.1" />
<line x1="613.1999999999999" y1="384.2" x2="621.6" y2="384.2" stroke="#D6782F" stroke-width="1.1" />
<line x1="636.75" y1="350" x2="636.75" y2="367.2" stroke="#D6782F" stroke-width="1.1" />
<line x1="632.55" y1="350" x2="640.95" y2="350" stroke="#D6782F" stroke-width="1.1" />
<line x1="632.55" y1="367.2" x2="640.95" y2="367.2" stroke="#D6782F" stroke-width="1.1" />
<line x1="598.05" y1="346.3" x2="598.05" y2="354.9" stroke="#A9A9A9" stroke-width="1.1" />
<line x1="593.8499999999999" y1="346.3" x2="602.25" y2="346.3" stroke="#A9A9A9" stroke-width="1.1" />
<line x1="593.8499999999999" y1="354.9" x2="602.25" y2="354.9" stroke="#A9A9A9" stroke-width="1.1" />
<polyline points="423.9,357.2 481.9,355.8 501.3,356.3 520.6,361.7 540.0,367.2 559.4,371.9 578.7,371.9 598.0,368.8 617.4,365.2 636.8,358.6" fill="none" stroke="#D6782F" stroke-width="1.8" stroke-linejoin="round"/>
<circle cx="423.9" cy="357.2" r="4.3" fill="#D6782F"/>
<circle cx="481.95" cy="355.8" r="4.3" fill="#D6782F"/>
<circle cx="501.29999999999995" cy="356.3" r="4.3" fill="#D6782F"/>
<circle cx="520.65" cy="361.7" r="4.3" fill="#D6782F"/>
<circle cx="540.0" cy="367.2" r="4.3" fill="#D6782F"/>
<circle cx="559.35" cy="371.9" r="4.3" fill="#D6782F"/>
<circle cx="578.7" cy="371.9" r="4.3" fill="#D6782F"/>
<circle cx="598.05" cy="368.8" r="4.3" fill="#D6782F"/>
<circle cx="617.4" cy="365.2" r="4.3" fill="#D6782F"/>
<circle cx="636.75" cy="358.6" r="4.3" fill="#D6782F"/>
<polyline points="423.9,357.2 481.9,351.5 501.3,351.9 520.6,351.5 540.0,349.0 559.4,350.4 578.7,349.8 598.0,350.4 617.4,347.0 636.8,349.0" fill="none" stroke="#A9A9A9" stroke-width="1.8" stroke-linejoin="round"/>
<circle cx="423.9" cy="357.2" r="4.3" fill="#A9A9A9"/>
<circle cx="481.95" cy="351.5" r="4.3" fill="#A9A9A9"/>
<circle cx="501.29999999999995" cy="351.9" r="4.3" fill="#A9A9A9"/>
<circle cx="520.65" cy="351.5" r="4.3" fill="#A9A9A9"/>
<circle cx="540.0" cy="349.0" r="4.3" fill="#A9A9A9"/>
<circle cx="559.35" cy="350.4" r="4.3" fill="#A9A9A9"/>
<circle cx="578.7" cy="349.8" r="4.3" fill="#A9A9A9"/>
<circle cx="598.05" cy="350.4" r="4.3" fill="#A9A9A9"/>
<circle cx="617.4" cy="347.0" r="4.3" fill="#A9A9A9"/>
<circle cx="636.75" cy="349.0" r="4.3" fill="#A9A9A9"/>
<circle cx="536.4" cy="432.3" r="4.2" fill="#A9A9A9"/>
<text x="0" y="0" transform="translate(548.6,436.0) scale(1,1.05)" font-size="13.5" font-weight="normal" text-anchor="start" >mock (n=2)</text>
<circle cx="536.4" cy="451.1" r="4.2" fill="#D6782F"/>
<text x="0" y="0" transform="translate(548.6,455.6) scale(1,1.05)" font-size="13.5" font-weight="normal" text-anchor="start" >2x10<tspan font-size="10" dx="-0.6" dy="-4.4">6</tspan><tspan dy="4.4" dx="-0.3"> pfu </tspan><tspan dx="0">(n=18)</tspan></text>
</svg>
</body></html>
